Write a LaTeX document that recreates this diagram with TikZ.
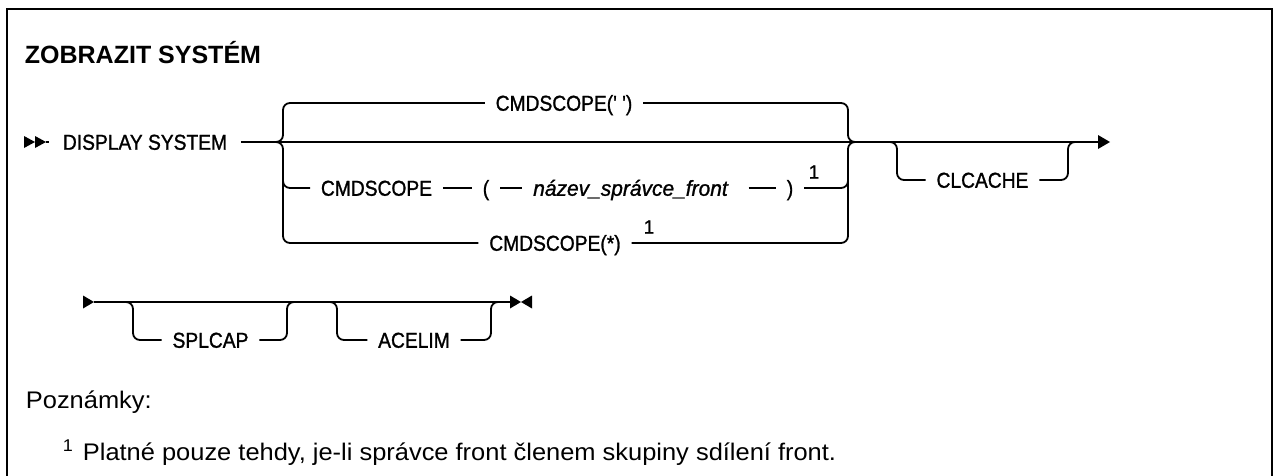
\documentclass[tikz,border=0pt]{standalone}
\usepackage{fontspec}
\setmainfont{Liberation Sans}
\newfontfamily\diagfont[FakeStretch=0.89,FakeBold=1.2]{Liberation Sans}
\newfontfamily\diagitfont[FakeStretch=0.97,FakeBold=1.2]{Liberation Sans}
\newfontfamily\supfont[FakeBold=1.2]{Liberation Sans}
\newfontfamily\notefont[FakeStretch=1.06]{Liberation Sans}
\begin{document}
\begin{tikzpicture}[x=1pt,y=-1pt,line width=1.8pt,
  lbl/.style={font=\diagfont\fontsize{21.6}{24}\selectfont, inner xsep=10pt, inner ysep=0pt, text height=15.5pt, text depth=0pt},
  itl/.style={font=\diagitfont\itshape\fontsize{21.6}{24}\selectfont, inner xsep=10pt, inner ysep=0pt, text height=15.5pt, text depth=0pt},
  supnum/.style={font=\supfont\fontsize{19}{21}\selectfont, inner sep=0pt},
  rail/.style={rounded corners=7pt},
  note/.style={font=\notefont\fontsize{24}{28}\selectfont, inner sep=0pt, anchor=base west}]
\useasboundingbox (0,0) rectangle (1273,476);
% frame
\draw[line width=2pt] (7,495) -- (7,9.5) -- (1271.5,9.5) -- (1271.5,495);
% title
\node[font=\bfseries\fontsize{25}{30}\selectfont, anchor=base west, inner sep=0pt] (title) at (24,64) {ZOBRAZIT SYSTÉM};
% ---- row 1
\fill (24,136) -- (35,142) -- (24,148) -- cycle;
\fill (35,136) -- (46,142) -- (35,148) -- cycle;
\coordinate (start) at (46,142);
\node[lbl, inner xsep=13pt] (ds) at (145,142) {DISPLAY SYSTEM};
\draw (start) -- (ds.west);
\coordinate (mainend) at (1098,142);
\draw (ds.east) -- (mainend);
\fill (1098,135) -- (1110,142) -- (1098,149) -- cycle;
% choice nodes
\node[lbl] (t1) at (564,103) {CMDSCOPE(' ')};
\node[lbl] (m1) at (376.5,188) {CMDSCOPE};
\node[lbl] (mp) at (486,188) {(};
\node[itl] (mn) at (630.5,188) {název\_správce\_front};
\node[lbl] (mq) at (790,188) {)};
\node[supnum] (s1) at (814,172) {1};
\node[lbl] (b1) at (555,243) {CMDSCOPE(*)};
\node[supnum] (s2) at (649,227) {1};
% left brace
\coordinate (lbin) at (268,142);
\coordinate (rbout) at (862,142);
\draw[rail] (lbin) -- (283,142) -- (283,103) -- (t1.west);
\draw[rail] (lbin) -- (283,142) -- (283,243) -- (b1.west);
\draw[rail] (283,170) -- (283,188) -- (m1.west);
% right brace
\draw[rail] (t1.east) -- (848,103) -- (848,142) -- (rbout);
\draw[rail] (b1.east) -- (848,243) -- (848,142) -- (rbout);
% middle row
\draw (m1.east) -- (mp.west);
\draw (mp.east) -- (mn.west);
\draw ([xshift=10pt]mn.east) -- (mq.west);
\draw[rail] (mq.east) -- (848,188) -- (848,168);
% CLCACHE
\node[lbl] (cl) at (982.5,180) {CLCACHE};
\draw[rail] (884,142) -- (897,142) -- (897,180) -- (cl.west);
\draw[rail] (cl.east) -- (1068,180) -- (1068,142) -- (1081,142);
% ---- row 2
\fill (83,295.5) -- (94,302) -- (83,308.5) -- cycle;
\coordinate (r2s) at (94,302);
\coordinate (r2e) at (510,302);
\draw (r2s) -- (r2e);
\fill (510,295.5) -- (521,302) -- (510,308.5) -- cycle;
\fill (532,295.5) -- (521,302) -- (532,308.5) -- cycle;
\node[lbl] (sp) at (210.5,340) {SPLCAP};
\draw[rail] (120,302) -- (133,302) -- (133,340) -- (sp.west);
\draw[rail] (sp.east) -- (287,340) -- (287,302) -- (300,302);
\node[lbl] (ac) at (414,340) {ACELIM};
\draw[rail] (324,302) -- (337,302) -- (337,340) -- (ac.west);
\draw[rail] (ac.east) -- (491,340) -- (491,302) -- (504,302);
% notes
\node[note] (pz) at (25,408) {Poznámky:};
\node[font=\notefont\fontsize{17}{19}\selectfont, anchor=base west, inner sep=0pt] (fn1) at (62,451) {1};
\node[note] (fn) at (82,460) {Platné pouze tehdy, je-li správce front členem skupiny sdílení front.};
\end{tikzpicture}
\end{document}
